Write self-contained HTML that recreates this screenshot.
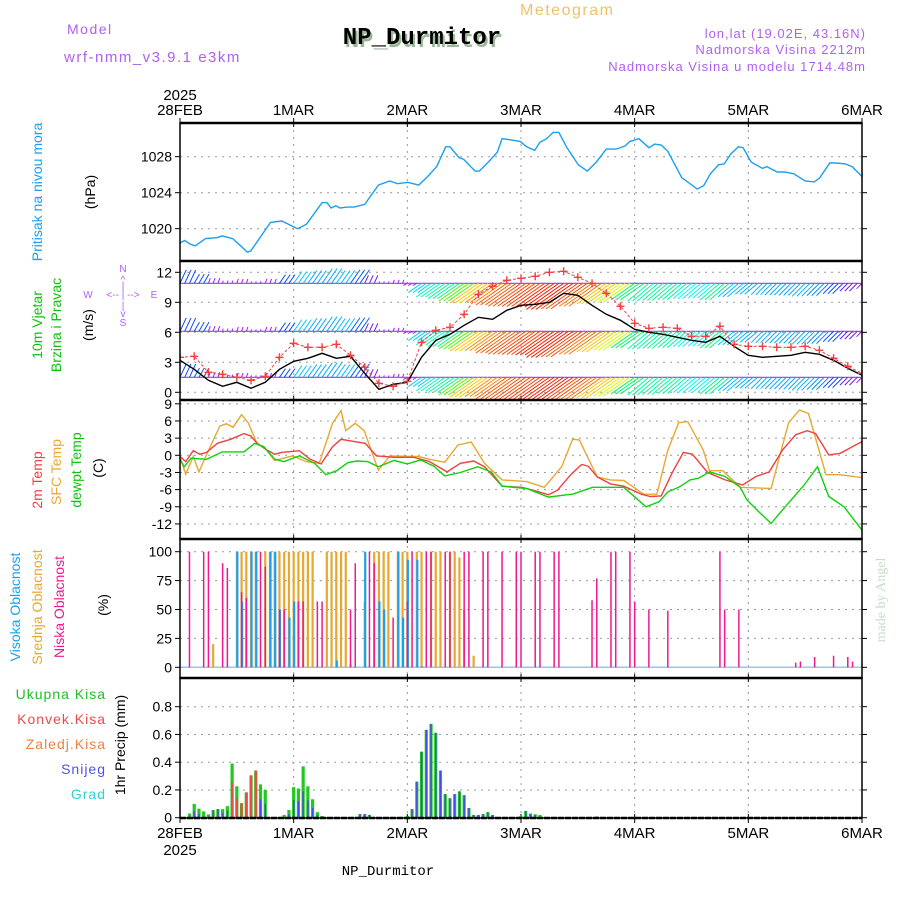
<!DOCTYPE html>
<html><head><meta charset="utf-8">
<style>
body{margin:0;background:#fff;}
svg{display:block;font-family:"Liberation Sans",sans-serif;}
</style></head>
<body>
<svg id="chart" width="900" height="900" viewBox="0 0 900 900" xmlns="http://www.w3.org/2000/svg">
<rect width="900" height="900" fill="#fff"/>
<text x="67" y="34" font-size="14" fill="#b060f0" letter-spacing="1.5">Model</text>
<text x="64" y="62" font-size="15" fill="#b060f0" letter-spacing="1.5">wrf-nmm_v3.9.1 e3km</text>
<text x="424" y="47" font-size="24" font-weight="bold" font-family="Liberation Mono,monospace" fill="#9bb89b" text-anchor="middle">NP_Durmitor</text>
<text x="422" y="44" font-size="24" font-weight="bold" font-family="Liberation Mono,monospace" fill="#000" text-anchor="middle">NP_Durmitor</text>
<text x="520" y="15" font-size="16" fill="#f0c070" letter-spacing="1.5">Meteogram</text>
<text x="866" y="38" font-size="13" fill="#b060f0" text-anchor="end" letter-spacing="1">lon,lat (19.02E, 43.16N)</text>
<text x="866" y="54" font-size="13" fill="#b060f0" text-anchor="end" letter-spacing="1">Nadmorska Visina 2212m</text>
<text x="866" y="71" font-size="13" fill="#b060f0" text-anchor="end" letter-spacing="1">Nadmorska Visina u modelu 1714.48m</text>

<text transform="translate(42,192) rotate(-90)" font-size="14" fill="#1aa0f0" text-anchor="middle">Pritisak na nivou mora</text>
<text transform="translate(95,192) rotate(-90)" font-size="14" text-anchor="middle">(hPa)</text>
<text transform="translate(42,325) rotate(-90)" font-size="14" fill="#10c010" text-anchor="middle">10m Vjetar</text>
<text transform="translate(61,325) rotate(-90)" font-size="14" fill="#10c010" text-anchor="middle">Brzina i Pravac</text>
<text transform="translate(93,325) rotate(-90)" font-size="14" text-anchor="middle">(m/s)</text>
<g fill="#b060f0" font-size="10">
<text x="123" y="272" text-anchor="middle">N</text>
<text x="123" y="326" text-anchor="middle">S</text>
<text x="88" y="298" text-anchor="middle">W</text>
<text x="154" y="298" text-anchor="middle">E</text>
<text x="123" y="298" text-anchor="middle" font-size="10">&lt;-- | --&gt;</text>
<text x="123" y="283" text-anchor="middle">^</text>
<text x="123" y="289" text-anchor="middle">|</text>
<text x="123" y="309" text-anchor="middle">|</text>
<text x="123" y="317" text-anchor="middle">v</text>
</g>
<text transform="translate(42,480) rotate(-90)" font-size="14" fill="#f04040" text-anchor="middle">2m Temp</text>
<text transform="translate(61,472) rotate(-90)" font-size="14" fill="#e8a830" text-anchor="middle">SFC Temp</text>
<text transform="translate(81,470) rotate(-90)" font-size="14" fill="#10c010" text-anchor="middle">dewpt Temp</text>
<text transform="translate(103,468) rotate(-90)" font-size="14" text-anchor="middle">(C)</text>
<text transform="translate(20,607) rotate(-90)" font-size="14" fill="#1aa0f0" text-anchor="middle">Visoka Oblacnost</text>
<text transform="translate(42,607) rotate(-90)" font-size="14" fill="#e8a830" text-anchor="middle">Srednja Oblacnost</text>
<text transform="translate(64,607) rotate(-90)" font-size="14" fill="#f01890" text-anchor="middle">Niska Oblacnost</text>
<text transform="translate(108,605) rotate(-90)" font-size="14" text-anchor="middle">(%)</text>
<g font-size="14" text-anchor="end" letter-spacing="1">
<text x="106" y="699" fill="#20c020">Ukupna Kisa</text>
<text x="106" y="724" fill="#f04848">Konvek.Kisa</text>
<text x="106" y="749" fill="#f08040">Zaledj.Kisa</text>
<text x="106" y="774" fill="#5050f0">Snijeg</text>
<text x="106" y="799" fill="#30d0d0">Grad</text>
</g>
<text transform="translate(125,745) rotate(-90)" font-size="14" text-anchor="middle">1hr Precip (mm)</text>
<text x="388" y="875" font-size="14" font-family="Liberation Mono,monospace" text-anchor="middle">NP_Durmitor</text>
<text transform="translate(885,600) rotate(-90)" font-size="14" font-family="Liberation Serif,serif" fill="#c8dcc8" text-anchor="middle">made by Angel</text>
<g id="plots"></g>
</svg>
<script>
// ---------- data ----------
const dayLabels = ["28FEB","1MAR","2MAR","3MAR","4MAR","5MAR","6MAR"];
const yearLabel = "2025";
const presHours = [0,1,2.1,3.2,5.4,7.8,8.9,11.1,13,14.2,14.9,19.1,21.5,22.9,24.8,26.7,30,31,31.9,32.9,33.8,35.3,36.7,39,41.9,44.3,45.9,48.1,50.4,52.3,54.2,56.1,57,58.9,59.9,62.3,63.2,65.1,67,68,69.4,71.8,73.2,74.9,76,77.4,78.8,80,81.7,84.1,86,87.9,90,92.1,94,95,96.9,99,100.2,101.6,103,105.9,109.2,110.6,112,113.7,114.9,116.3,117.9,118.9,120.6,123,123.9,126.1,127.7,129.6,132,133.9,135,137.2,138.6,140.5,141.9,144];
const presVals = [1018.4,1018.7,1018.3,1018.1,1018.9,1019.0,1019.2,1018.9,1018.0,1017.4,1017.5,1020.7,1020.85,1020.5,1020.0,1020.5,1022.9,1022.9,1022.3,1022.55,1022.3,1022.4,1022.4,1022.7,1024.85,1025.3,1025.0,1025.15,1024.85,1025.8,1026.9,1029.1,1029.1,1027.9,1027.7,1026.4,1026.4,1027.4,1028.5,1030.0,1029.9,1029.7,1029.1,1028.7,1029.6,1030.0,1030.7,1030.7,1029.0,1027.1,1026.4,1027.4,1028.85,1028.85,1029.2,1029.7,1030.0,1029.0,1029.4,1029.3,1028.6,1025.7,1024.4,1024.8,1026.1,1027.1,1027.2,1028.3,1029.1,1029.0,1027.4,1026.7,1026.9,1026.3,1026.3,1026.1,1025.3,1025.2,1025.6,1027.3,1027.3,1027.2,1026.9,1025.8];
const presTicks = [1020,1024,1028];

const windHours = [0,3,6,9,12,15,18,21,24,27,30,33,36,39,42,45,48,51,54,57,60,63,66,69,72,75,78,81,84,87,90,93,96,99,102,105,108,111,114,117,120,123,126,129,132,135,138,141,144];
const windSpeed = [3.2,2.3,1.2,0.6,1.0,0.4,1.0,2.3,3.1,3.4,3.9,3.4,3.6,1.9,0.3,0.8,1.0,3.5,5.2,5.8,6.7,7.5,7.3,8.2,8.7,8.8,9.0,9.9,9.7,8.7,7.8,7.2,6.3,6.0,5.8,5.5,5.2,5.0,5.6,4.6,3.7,3.5,3.6,3.7,4.0,3.8,3.2,2.4,1.7];
const windGust = [3.5,3.6,2.0,1.8,1.5,1.2,1.6,3.5,4.9,4.5,4.5,4.8,3.7,2.5,0.9,0.6,1.1,5.0,6.2,6.5,7.8,9.8,10.6,11.2,11.4,11.6,12.0,12.1,11.5,10.9,9.9,8.6,6.9,6.4,6.5,6.4,5.6,5.6,6.6,4.8,4.6,4.6,4.5,4.5,4.6,4.2,3.4,2.6,1.9];
const windDir = [205,210,200,190,200,190,200,215,215,215,215,215,215,205,200,200,60,55,55,55,55,55,55,55,55,55,55,55,55,55,55,55,55,50,50,50,50,50,50,50,50,45,45,45,45,45,45,45,45];
const windTicks = [0,3,6,9,12];
const barbLevels = [1.5,6.1,10.9];

const t2Hours = [0,1.2,2.8,4.2,5.6,7.9,10.7,13.5,14.9,16.3,18.2,20,21.4,25.2,27.5,29.8,32.2,34,36.8,39.1,41.5,45.2,49.4,52.7,56.4,59.2,62,64.3,68,72.2,75,77.8,79.7,82.5,84.8,86.2,88.1,90.9,93.7,97.4,99.3,101.6,104,106.3,108.2,111.4,115.1,118.8,121.6,124.4,127.2,130,132.4,134.2,137,139.4,144];
const t2Vals = [-0.2,-1.1,0.8,0.2,0.5,2.1,2.8,3.8,3.4,2.1,1.0,0.2,0.5,0.8,-0.7,-1.5,1.5,2.8,2.4,2.1,-0.1,-0.35,-0.35,-1.1,-2.9,-1.4,-1.0,-2.0,-5.4,-5.6,-6.2,-6.9,-6.1,-3.4,-1.6,-1.9,-3.8,-5.0,-5.4,-6.8,-7.2,-7.1,-2.9,0.5,0.2,-3.0,-4.3,-5.2,-3.7,-2.9,0.9,3.6,4.3,3.8,0.05,0.35,2.4];
const sfcHours = [0,1.2,2.8,4,6.1,8.4,9.8,11.2,13,14.4,16.3,17.7,20,23.8,26.6,29.4,32.2,34,35,37,38.9,41.9,44.3,50.3,52.7,55.9,58.7,61.5,64.3,68,73.2,76.9,80.6,82.9,84.3,88.1,90.9,93.7,97.9,100.7,103,105.3,107.2,110.5,111.8,114.6,118.3,124.8,128.5,130.8,132.7,136.4,139.2,144];
const sfcVals = [-0.2,-3.3,-0.2,-2.9,1.0,5.1,5.5,4.9,7.1,5.7,2.0,1.5,-0.9,-0.1,-1.1,-1.4,5.6,7.8,4.3,5.6,4.3,-2.6,-0.1,-0.2,-0.7,-1.2,1.8,2.3,-1.4,-4.3,-4.6,-5.6,-2.0,2.8,2.7,-3.8,-4.3,-4.4,-6.8,-6.8,0.9,5.7,5.9,0.9,-2.7,-2.7,-5.6,-5.8,5.7,7.9,7.3,-3.4,-3.4,-3.9];
const dewHours = [0,0.9,2.3,5.6,8.9,13.5,15.8,17.7,20,21.9,25.2,28.4,30.8,33.1,35.4,37.3,39.6,41.9,45.2,48,50.8,53.6,55.9,59.2,62.9,65.7,68,73.2,77.8,81.6,82.9,87.1,93.7,98.4,101.2,103,105.3,107.7,109.5,111.8,115.1,118.3,119.7,122.5,124.8,128.1,131.8,134.6,137,140.2,144];
const dewVals = [-0.8,-2.0,-0.5,-0.7,0.6,0.6,2.1,1.5,-0.7,-1.1,-0.1,-1.4,-3.4,-2.7,-1.3,-1.0,-1.1,-2.0,-0.9,-1.5,-0.8,-1.9,-3.6,-3.0,-2.0,-2.9,-5.4,-5.8,-7.3,-6.9,-6.8,-5.6,-5.6,-9.0,-8.1,-6.4,-5.6,-4.3,-4.0,-2.9,-3.7,-5.6,-7.8,-10.1,-11.9,-8.7,-5.2,-2.0,-7.2,-9.0,-13.1];
const tempTicks = [-12,-9,-6,-3,0,3,6,9];

const lowHours = [2,5,6,9,10,13,14,17,18,21,22,25,26,29,30,36,37,40,41,45,48,49,52,53,56,57,60,61,64,65,68,71,72,75,76,79,80,87,88,91,92,95,96,99,103,114,115,118,130,131,134,138,141,142];
const lowVals = [100,100,100,90,86,65,60,100,87,50,50,57,57,57,57,50,90,100,90,43,57,100,100,100,100,100,100,100,100,100,100,100,100,100,100,100,100,58,77,100,100,100,57,50,49,100,50,50,4,5,9,10,9,5];
const midHours = [7,12,13,14,15,16,18,19,20,21,22,23,24,25,26,27,28,31,32,33,34,35,36,39,41,42,43,44,46,47,48,50,51,53,54,55,57,58,59,60,62];
const midVals = [20,100,100,100,100,100,100,100,100,100,100,100,100,100,100,100,100,100,100,100,100,100,3,57,100,100,100,100,100,100,100,100,100,100,100,100,100,100,95,50,10];
const highHours = [12,13,15,16,19,20,21,23,24,33,39,42,43,46,47,48,50,51];
const highVals = [100,57,100,100,100,100,50,43,57,6,100,57,50,100,43,93,93,1];
const cloudTicks = [0,25,50,75,100];

const totHours = [2,3,4,5,6,7,8,9,10,11,12,13,14,15,16,17,18,22,23,24,25,26,27,28,29,30,38,39,40,48,49,50,51,52,53,54,55,56,57,58,59,60,61,62,63,64,65,66,72,73,74,75,76];
const totVals = [0.03,0.10,0.065,0.045,0.024,0.055,0.062,0.062,0.083,0.39,0.226,0.105,0.183,0.305,0.34,0.24,0.2,0.02,0.055,0.22,0.21,0.37,0.226,0.133,0.04,0.012,0.026,0.026,0.02,0.012,0.062,0.26,0.476,0.633,0.676,0.612,0.34,0.17,0.14,0.17,0.19,0.162,0.07,0.02,0.02,0.026,0.04,0.02,0.012,0.048,0.03,0.025,0.02];
const convHours = [7,11,12,13,14,15,16,17];
const convVals = [0.02,0.255,0.14,0.1,0.18,0.305,0.34,0.1];
const snowHours = [3,4,7,8,9,10,17,18,23,24,25,26,27,28,29,38,39,40,49,50,51,52,53,54,55,56,57,58,59,60,61,62,63,64,65,66,73,74,75,88];
const snowVals = [0.048,0.026,0.055,0.062,0.033,0.05,0.133,0.1,0.026,0.126,0.12,0.19,0.126,0.07,0.02,0.026,0.026,0.02,0.062,0.26,0.476,0.633,0.676,0.612,0.34,0.17,0.14,0.17,0.19,0.162,0.07,0.02,0.02,0.026,0.04,0.02,0.048,0.025,0.02,0.01];
const precipTicks = [0,0.2,0.4,0.6,0.8];
const precipTickLabels = ["0","0.2","0.4","0.6","0.8"];

// ---------- layout ----------
const NS="http://www.w3.org/2000/svg";
const X0=180,X1=862,HMAX=144;
const panels={pres:[123,261],wind:[261,400],temp:[400,539],cloud:[539,678],prec:[678,818]};
const xS=h=>X0+h*(X1-X0)/HMAX;
const yPres=v=>228.7-(v-1020)*9;
const yWind=v=>392.3-v*10;
const yTemp=v=>455.3-v*5.72;
const yCloud=v=>667.3-v*1.156;
const yPrec=v=>817.7-v*138.75;
const root=document.getElementById('plots');
function el(tag,attrs,parent){const e=document.createElementNS(NS,tag);for(const k in attrs)e.setAttribute(k,attrs[k]);(parent||root).appendChild(e);return e;}

const defs=el('defs',{});
for(const k in panels){const c=el('clipPath',{id:'clip-'+k},defs);el('rect',{x:X0,y:panels[k][0],width:X1-X0,height:panels[k][1]-panels[k][0]},c);}

function grid(key,ticks,yf,labels,dataName){
  const g=el('g',{});
  
  
  const [t,b]=panels[key];
  for(let d=1;d<6;d++){el('line',{x1:xS(d*24),x2:xS(d*24),y1:t,y2:b,stroke:'#999','stroke-dasharray':'2,5','stroke-width':1},g);}
  ticks.forEach((v,i)=>{
    const y=yf(v);
    if(y>t+2&&y<b-2) el('line',{x1:X0,x2:X1,y1:y,y2:y,stroke:'#999','stroke-dasharray':'2,5','stroke-width':1},g);
    el('line',{x1:X0-5,x2:X0,y1:y,y2:y,stroke:'#000'},g);
    el('line',{x1:X1,x2:X1+5,y1:y,y2:y,stroke:'#000'},g);
    const tx=el('text',{x:X0-8,y:y+5,'font-size':14,'text-anchor':'end',fill:'#000'},g);
    
    
    tx.textContent=labels?labels[i]:String(v);
  });
  for(let d=0;d<=6;d++){
    el('line',{x1:xS(d*24),x2:xS(d*24),y1:t,y2:t+4,stroke:'#000'},g);
    el('line',{x1:xS(d*24),x2:xS(d*24),y1:b-4,y2:b,stroke:'#000'},g);
  }
}
grid('pres',presTicks,yPres,null,'pressure');
grid('wind',windTicks,yWind,null,'wind');
grid('temp',tempTicks,yTemp,null,'temp');
grid('cloud',cloudTicks,yCloud,null,'cloud');
grid('prec',precipTicks,yPrec,precipTickLabels,'precip');

dayLabels.forEach((d,i)=>{
  const x=xS(i*24);
  const a=el('text',{x:x,y:115,'font-size':15,'text-anchor':'middle',fill:'#000'});
  
  
  a.textContent=d;
  const b=el('text',{x:x,y:838,'font-size':15,'text-anchor':'middle',fill:'#000'});
  
  
  b.textContent=d;
  el('line',{x1:x,x2:x,y1:118,y2:123,stroke:'#000'});
  el('line',{x1:x,x2:x,y1:818,y2:823,stroke:'#000'});
});
[[100,'top-year-label'],[855,'bottom-year-label']].forEach(([y,n])=>{
  const t=el('text',{x:xS(0),y:y,'font-size':15,'text-anchor':'middle',fill:'#000'});
  
  
  t.textContent=yearLabel;
});

function line(hs,vs,yf,color,key,name,extra){
  const p=el('path',Object.assign({d:hs.map((h,i)=>(i?'L':'M')+xS(h).toFixed(1)+','+yf(vs[i]).toFixed(1)).join(''),fill:'none',stroke:color,'stroke-width':1.4,'clip-path':'url(#clip-'+key+')'},extra||{}));
  
  
  return p;
}
line(presHours,presVals,yPres,'#1aa0f0','pres','pressure-line');

function speedColor(s){
  const stops=[[0,280],[2.2,275],[3.2,230],[4.5,200],[6,170],[7,140],[8.5,70],[10,45],[11,25],[12.5,0]];
  let hue=0;
  if(s<=0)hue=280;
  for(let i=0;i<stops.length-1;i++){if(s>=stops[i][0]&&s<=stops[i+1][0]){const f=(s-stops[i][0])/(stops[i+1][0]-stops[i][0]);hue=stops[i][1]+f*(stops[i+1][1]-stops[i][1]);break;}}
  return 'hsl('+hue.toFixed(0)+',95%,'+(hue>250?'55%':'50%')+')';
}
const barbG=el('g',{'clip-path':'url(#clip-wind)'});


barbLevels.forEach((lvl,li)=>{
  const base=el('path',{d:windHours.map((h,i)=>(i?'L':'M')+xS(h).toFixed(1)+','+yWind(lvl).toFixed(1)).join(''),stroke:'#9040f0','stroke-width':1.2,fill:'none'},barbG);
  
  
  for(let h=0;h<=HMAX;h++){
    const i=Math.min(windHours.length-1,Math.floor(h/3));
    const s=windSpeed[i],dir=windDir[i];
    const to=(dir+180)*Math.PI/180;
    const L=Math.max(2,s*4.6);
    const x=xS(h),y=yWind(lvl);
    const x2=x+Math.sin(to)*L,y2=y-Math.cos(to)*L;
    const b=el('line',{x1:x,y1:y,x2:x2,y2:y2,stroke:speedColor(windGust[i]),'stroke-width':1},barbG);
    
    
  }
});
line(windHours,windSpeed,yWind,'#000','wind','wind-speed-line');
line(windHours,windGust,yWind,'#f04040','wind','wind-gust-line',{'stroke-dasharray':'3,2','stroke-width':1});
windHours.forEach((h,i)=>{
  const x=xS(h),y=yWind(windGust[i]);
  const m=el('path',{d:`M${x-4},${y}H${x+4}M${x},${y-4}V${y+4}`,stroke:'#f04040','stroke-width':1.4,'clip-path':'url(#clip-wind)'});
  
  
});

line(sfcHours,sfcVals,yTemp,'#e8a830','temp','sfc-temp-line');
line(t2Hours,t2Vals,yTemp,'#f04040','temp','temp-2m-line');
line(dewHours,dewVals,yTemp,'#10d010','temp','dewpoint-line');

const cb=el('line',{x1:X0,x2:X1,y1:yCloud(0),y2:yCloud(0),stroke:'#8ccbf0','stroke-width':1.5});


function bars(hs,vs,yf,color,w,off,name){
  hs.forEach((h,i)=>{
    const y=yf(vs[i]),y0=yf(0);
    const r=el('rect',{x:xS(h)+off-w/2,y:y,width:w,height:Math.max(0,y0-y),fill:color});
    
    
  });
}
bars(midHours,midVals,yCloud,'#e8a830',2.2,0,'mid-cloud-bar');
bars(highHours,highVals,yCloud,'#1aa0f0',2.2,0.5,'high-cloud-bar');
bars(lowHours,lowVals,yCloud,'#f01890',1.5,0,'low-cloud-bar');

bars(totHours,totVals,yPrec,'#20c820',3.2,0,'total-precip-bar');
bars(convHours,convVals,yPrec,'#f04848',2.2,0,'convective-precip-bar');
bars(snowHours,snowVals,yPrec,'#4848f0',1.4,0,'snow-bar');

for(const k in panels){
  const [t,b]=panels[k];
  const f=el('rect',{x:X0,y:t,width:X1-X0,height:b-t,fill:'none',stroke:'#000','stroke-width':1.5});
  
  
  el('line',{x1:X0,x2:X1,y1:t,y2:t,stroke:'#000','stroke-width':2.5});
}
el('line',{x1:X0,x2:X1,y1:818,y2:818,stroke:'#000','stroke-width':2.5,'stroke-dasharray':'6,1'});
</script>
</body></html>
